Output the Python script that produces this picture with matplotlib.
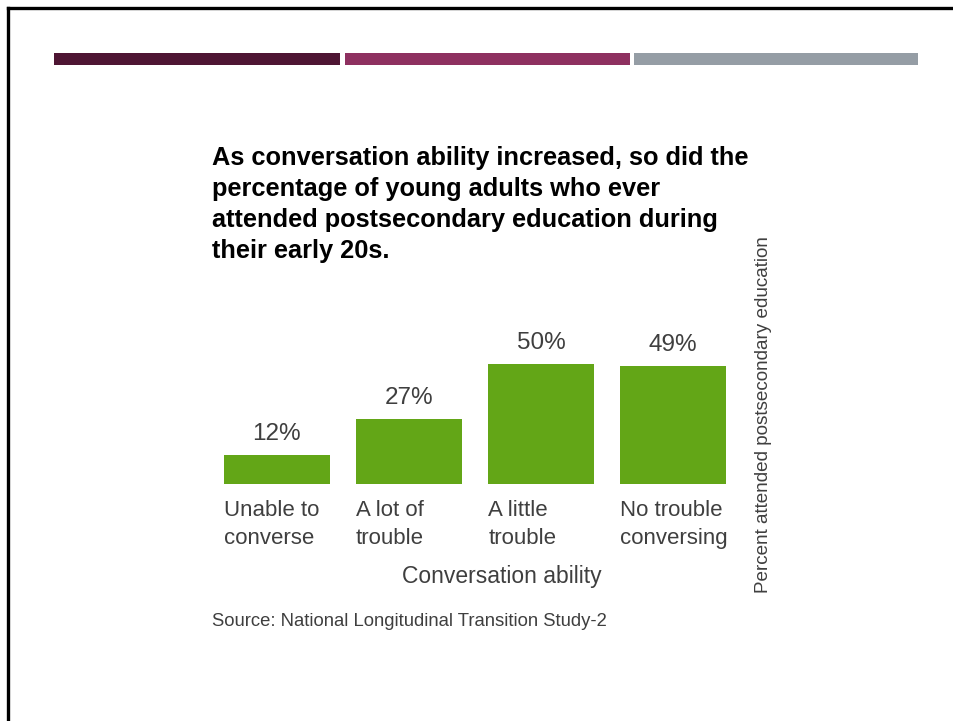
import matplotlib
matplotlib.use('Agg')
import matplotlib.pyplot as plt
from matplotlib.lines import Line2D
from matplotlib.patches import Rectangle

plt.rcParams['font.family'] = ['Liberation Sans', 'DejaVu Sans']

categories = ['Unable to\nconverse', 'A lot of\ntrouble', 'A little\ntrouble', 'No trouble\nconversing']
percents = [12, 27, 50, 49]
stripe_colors = ['#4e1533', '#8e3060', '#959da5']

W, H = 954, 721
fig = plt.figure(figsize=(W / 100, H / 100), dpi=100)


def fx(px):
    return px / W


def fy(py):
    return 1 - py / H


# slide frame (top and left rules)
fig.add_artist(Line2D([fx(8), 1], [fy(8), fy(8)], color='black', lw=2.4))
fig.add_artist(Line2D([fx(8), fx(8)], [fy(8), 0], color='black', lw=2.4))

# three coloured stripes under the frame
stripes = [(54, 340), (345, 630), (634, 918)]
for (x0, x1), c in zip(stripes, stripe_colors):
    fig.add_artist(Rectangle((fx(x0), fy(65)), fx(x1 - x0), 12 / H,
                             color=c, lw=0))

# chart area
ax = fig.add_axes([fx(224), fy(484), fx(502), 144 / H])
x = range(len(percents))
bars = ax.bar(x, percents, width=0.8, color='#63a617')
ax.set_xlim(-0.4, len(percents) - 0.6)
ax.set_ylim(0, 60)
ax.axis('off')

txt = '#3f3f3f'
for b, p in zip(bars, percents):
    ax.annotate(f'{p}%', (b.get_x() + b.get_width() / 2, p),
                xytext=(0, 11), textcoords='offset points',
                ha='center', va='baseline', fontsize=17.5, color=txt)

for i, lab in enumerate(categories):
    ax.annotate(lab, (i - 0.4, 0), xytext=(0, -11.5), textcoords='offset points',
                ha='left', va='top', fontsize=16, color=txt, linespacing=1.42)

fig.text(fx(502), fy(583), 'Conversation ability', ha='center', va='baseline',
         fontsize=16.5, color=txt)

title = ('As conversation ability increased, so did the\n'
         'percentage of young adults who ever\n'
         'attended postsecondary education during\n'
         'their early 20s.')
fig.text(fx(212), fy(146), title, ha='left', va='top', fontsize=18.3,
         fontweight='bold', color='black', linespacing=1.36)

fig.text(fx(764), fy(415), 'Percent attended postsecondary education',
         rotation=90, ha='center', va='center', fontsize=13.6, color=txt)

fig.text(fx(212), fy(626), 'Source: National Longitudinal Transition Study-2',
         ha='left', va='baseline', fontsize=13.3, color=txt)

fig.savefig('out.png', dpi=100)
